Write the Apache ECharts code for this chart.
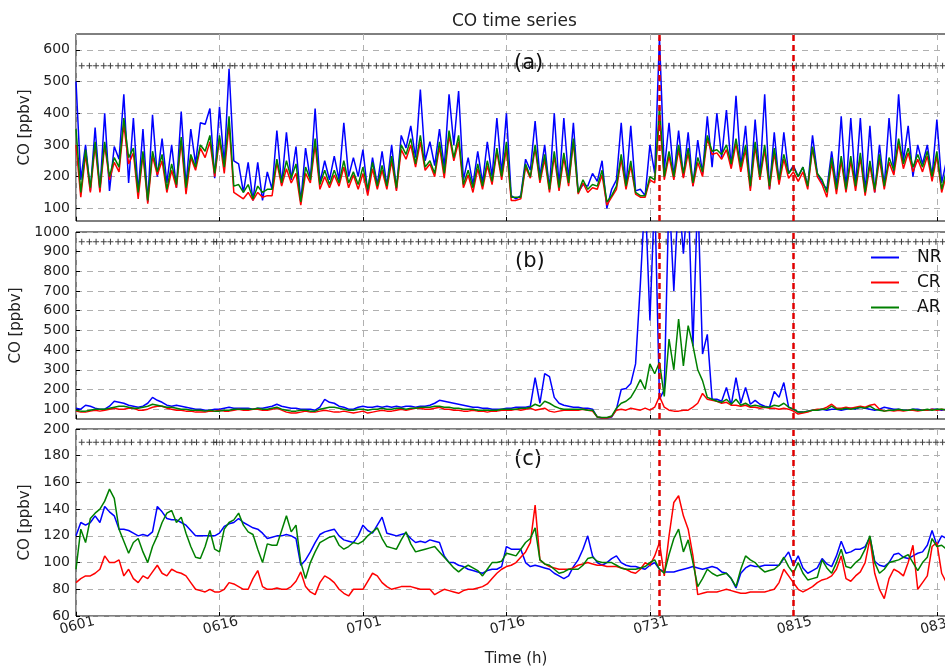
<!DOCTYPE html>
<html>
<head>
<meta charset="utf-8">
<title>CO time series</title>
<script src="https://cdn.jsdelivr.net/npm/echarts@6/dist/echarts.min.js"></script>
<style>
html, body { margin: 0; padding: 0; background: #fff; }
#main { width: 945px; height: 667px; }
</style>
</head>
<body>
<div id="main"></div>
<script>
// samples every half day, day 0 = 06-01
var stepDay = 0.5;
var dateTicks = ["0601", "0616", "0701", "0716", "0731", "0815", "0830"];
var eventDays = [60.95, 75];
var markerDays = [0.6, 1.4, 2.1, 2.9, 3.6, 4.4, 5.1, 5.8, 6.7, 7.5, 8.3, 9.0, 9.8, 10.5, 11.4, 12.1, 12.6, 13.5, 14.4, 14.7,
  15.3, 16.1, 16.6, 17.4, 18.2, 18.9, 19.7, 20.4, 21.2, 21.9, 22.6, 23.4, 24.1, 24.8, 25.6, 26.3, 27.1, 27.7, 28.5, 29.3,
  29.9, 30.6, 31.4, 32.1, 32.7, 33.5, 34.3, 35.0, 35.8, 36.5, 37.2, 38.0, 38.7, 39.5, 40.2, 40.9, 41.7, 42.4, 43.1, 43.7,
  44.5, 45.2, 45.9, 46.7, 47.4, 48.0, 48.8, 49.6, 50.3, 51.0, 51.8, 52.5, 53.2, 54.0, 54.7, 55.5, 56.2, 56.9, 57.7, 58.4,
  59.1, 59.8, 60.4, 61.0, 61.7, 62.5, 63.2, 63.9, 64.7, 65.4, 66.1, 66.9, 67.6, 68.3, 69.1, 69.8, 70.5, 71.3, 72.0, 72.7,
  73.5, 74.2, 74.9, 75.3, 76.0, 76.8, 77.5, 78.2, 79.0, 79.7, 80.4, 81.2, 81.9, 82.6, 83.4, 84.1, 84.8, 85.6, 86.3, 87.0,
  87.8, 88.5, 89.2, 89.9, 90.6];
var markerLevels = [550, 950, 190];

var yTicksA = [100, 200, 300, 400, 500, 600];
var yTicksB = [100, 200, 300, 400, 500, 600, 700, 800, 900, 1000];
var yTicksC = [60, 80, 100, 120, 140, 160, 180, 200];

// (a)
var nrA = [500,190,300,155,355,155,400,155,295,255, 460,180,385,150,350,120,395,200,320,180,
  300,165,405,170,350,240,370,365,415,195, 420,240,540,250,240,150,245,125,245,125,
  215,160,345,175,340,190,295,120,290,190, 415,180,250,190,265,190,370,200,260,200,
  285,150,260,175,280,170,300,160,330,290, 360,260,475,250,310,235,350,230,460,300,
  470,190,260,175,280,180,310,200,385,210, 400,140,130,140,255,220,375,200,300,160,
  400,170,385,190,370,150,175,170,210,185, 250,100,160,190,370,170,360,155,160,140,
  300,210,640,220,370,200,345,200,340,170, 315,210,390,230,400,260,410,230,455,230,
  360,165,380,200,460,160,340,180,340,210, 235,200,230,170,330,210,180,160,280,170,
  390,160,385,170,385,150,360,150,300,170, 385,210,460,250,360,200,300,240,300,200,
  380,180,250];
var crA = [300,135,270,150,300,150,300,190,245,215, 365,240,275,130,270,115,265,205,250,150,
  220,165,310,145,260,220,290,260,310,200, 320,210,365,150,140,130,150,125,150,135,
  140,140,245,170,225,180,210,110,210,180, 300,160,200,165,205,170,230,165,205,160,
  210,140,225,160,220,160,250,155,285,255, 300,230,310,220,240,200,295,195,330,250,
  310,165,205,150,225,160,235,175,280,190, 290,125,125,130,230,195,290,180,255,150,
  265,155,260,170,310,145,180,150,165,160, 205,110,135,160,255,160,235,145,135,135,
  190,180,390,190,265,190,285,195,275,170, 245,200,320,270,275,255,285,225,305,215,
  285,155,295,190,285,160,275,175,255,195, 215,185,215,160,290,200,175,135,245,145,
  250,150,250,155,260,140,235,150,255,160, 245,205,305,225,275,215,255,215,265,185,
  265,150,205];
var arA = [350,150,285,165,310,165,310,200,260,230, 385,260,290,150,280,125,280,215,270,160,
  240,175,325,165,270,230,300,280,330,210, 330,230,390,170,175,150,175,130,170,150,
  160,160,255,180,250,195,240,120,230,190, 320,175,220,175,220,180,250,180,215,175,
  230,160,245,170,235,170,265,165,300,270, 320,240,330,230,250,210,310,210,345,260,
  330,175,220,165,240,170,250,185,290,200, 310,135,135,135,240,200,300,190,270,160,
  280,165,275,180,320,150,190,160,175,170, 220,120,140,170,270,170,250,150,140,140,
  200,190,420,200,280,200,300,210,290,180, 260,215,330,280,285,270,300,240,320,230,
  300,170,310,200,300,170,290,190,270,210, 230,200,230,170,295,210,190,150,260,160,
  265,160,265,170,275,150,250,160,270,170, 260,220,320,240,290,230,270,230,280,200,
  280,160,220];

// (b)
var nrB = [105,100,120,115,105,100,100,115,140,135, 130,120,115,110,115,130,160,145,135,120,
  115,120,115,110,105,100,100,95,95,100, 100,105,110,105,105,105,105,100,105,105,
  110,115,125,115,110,105,105,100,100,100, 95,110,150,135,130,115,110,100,100,110,
  115,110,110,115,110,115,110,115,110,115, 115,110,115,115,120,130,145,140,135,130,
  125,120,115,110,110,105,105,100,100,100, 105,105,110,110,110,115,260,130,280,265,
  160,130,120,115,110,110,105,105,100,60, 55,55,60,100,200,205,230,330,735,1200,
  550,1200,150,200,1200,700,1200,890,1200,420, 1200,380,480,150,150,140,210,120,260,130,
  210,125,145,125,115,110,190,160,235,110, 100,85,85,90,95,95,100,95,100,100,
  95,100,105,100,110,105,100,95,100,110, 105,100,100,95,95,100,100,95,95,100,
  100,95,100];
var crB = [90,85,85,90,95,90,95,100,105,100, 100,105,105,95,95,100,110,115,115,105,
  100,95,95,90,90,85,85,85,90,90, 95,90,90,95,100,95,95,100,100,95,
  95,100,105,95,85,80,80,85,90,85, 85,90,95,90,85,85,90,85,80,85,
  90,80,85,90,95,90,90,95,100,95, 100,105,105,100,100,105,110,100,100,95,
  95,90,90,95,90,90,85,90,90,95, 95,95,100,95,100,105,95,100,105,90,
  85,90,95,95,95,95,100,95,90,60, 55,55,62,95,100,95,105,100,95,105,
  95,110,165,110,95,90,90,95,95,110, 130,180,150,145,140,130,135,120,120,115,
  120,110,110,105,110,105,105,100,105,100, 90,75,80,85,95,100,100,110,125,105,
  105,110,105,110,115,110,120,125,100,90, 95,90,95,90,95,95,90,95,95,100,
  95,100,95];
var arB = [95,90,90,95,100,100,100,105,110,115, 115,110,105,105,110,115,125,120,115,110,
  110,105,100,100,95,95,95,90,95,90, 90,95,95,100,100,100,100,100,105,100,
  100,105,110,100,95,90,90,95,95,90, 90,100,105,110,110,105,100,95,95,100,
  100,95,100,100,105,100,100,105,105,100, 105,105,110,110,110,115,115,110,110,105,
  105,100,100,100,95,95,95,95,95,100, 100,100,100,105,105,110,125,115,140,130,
  115,105,100,100,100,100,100,95,95,60, 58,58,65,105,130,140,160,200,250,200,
  330,280,338,165,456,300,558,320,524,423, 300,245,160,150,140,135,150,125,150,120,
  130,115,120,115,110,110,120,115,130,110, 100,85,85,90,95,95,100,100,115,100,
  100,105,100,105,110,105,115,100,95,90, 95,95,100,95,95,100,95,95,100,95,
  100,100,95];

// (c)
var nrC = [120,130,128,130,135,130,142,138,135,125, 125,124,122,120,121,120,123,142,138,133,
  132,132,130,128,124,120,120,120,120,120, 122,127,129,130,133,130,128,126,125,122,
  118,119,120,120,121,120,118,98,102,108, 115,121,123,124,125,120,117,116,115,120,
  128,124,122,128,134,122,121,120,121,122, 118,115,116,115,117,116,115,105,100,100,
  98,97,95,94,93,92,94,95,95,97, 112,110,110,110,100,97,98,97,96,95,
  92,90,88,90,97,102,110,120,105,100, 98,100,103,105,100,98,97,97,96,95,
  98,100,95,93,93,93,94,95,96,97, 96,95,96,97,96,93,92,88,81,92,
  96,98,97,97,98,98,98,98,103,108, 98,105,96,92,94,96,103,99,97,105,
  116,107,108,110,110,112,119,101,98,97, 100,106,107,104,103,105,107,108,113,124,
  113,120,118];
var crC = [85,88,90,90,92,95,105,100,100,102, 90,95,88,85,90,88,93,98,92,90,
  95,93,92,90,85,80,79,78,80,78, 78,80,85,84,82,80,80,88,94,82,
  80,80,81,80,80,82,86,93,82,78, 76,85,90,88,85,80,77,75,80,80,
  80,86,92,90,85,82,80,81,82,82, 82,81,80,80,80,76,78,80,79,78,
  77,79,80,80,81,82,84,88,92,95, 97,98,100,104,108,115,143,102,99,97,
  96,95,95,95,96,98,99,100,99,98, 98,97,97,97,96,95,93,92,95,100,
  98,105,115,90,120,145,150,135,125,105, 76,77,78,78,78,79,80,79,78,77,
  77,78,78,78,78,79,80,85,95,90, 85,80,78,80,82,85,87,88,90,95,
  105,88,86,90,93,100,118,92,80,73, 88,95,93,90,100,113,80,85,90,112,
  115,92,85];
var arC = [95,125,115,133,137,140,146,155,148,125, 116,107,115,118,108,100,112,120,130,137,
  139,130,134,122,112,104,103,112,124,110, 108,125,130,132,137,128,123,121,110,100,
  114,113,113,124,135,123,128,100,88,100, 108,115,117,119,120,113,110,112,115,114,
  116,120,123,126,118,112,111,110,117,123, 114,108,109,110,111,112,108,104,100,96,
  93,96,98,96,94,90,95,100,100,101, 107,106,105,110,115,118,126,102,99,98,
  95,92,93,95,95,95,98,103,104,101, 100,100,100,98,96,95,95,95,96,97,
  100,102,95,92,106,118,125,108,117,100, 82,88,95,92,90,91,92,88,82,95,
  105,102,100,96,93,94,95,98,104,97, 92,100,92,87,88,89,102,96,92,100,
  110,97,96,100,103,110,120,100,92,95, 100,101,102,104,106,100,94,100,104,118,
  112,113,110];

var panels = [
  { nr: nrA, cr: crA, ar: arA, min: 60, max: 650, ticks: yTicksA, top: 34 },
  { nr: nrB, cr: crB, ar: arB, min: 50, max: 1000, ticks: yTicksB, top: 232 },
  { nr: nrC, cr: crC, ar: arC, min: 60, max: 200, ticks: yTicksC, top: 429 }
];
var colors = { NR: "#0000ff", CR: "#ff0000", AR: "#008000" };
var font = "DejaVu Sans";
var gridDash = { color: "#b0b0b0", width: 1, type: [6, 5] };

function toPoints(vals) {
  return vals.map(function (v, i) { return [i * stepDay, v]; });
}

var grids = [], xAxes = [], yAxes = [], series = [];
panels.forEach(function (p, k) {
  grids.push({ left: 76, top: p.top, width: 880, height: 187, show: true,
    outerBoundsMode: "none", containLabel: false,
    borderColor: "#000", borderWidth: 1, backgroundColor: "transparent" });
  xAxes.push({
    type: "value", gridIndex: k, min: 0, max: 92, interval: 15,
    axisLine: { show: false },
    axisTick: { show: true, inside: true, length: 4, lineStyle: { color: "#000" } },
    splitLine: { show: true, lineStyle: gridDash },
    axisLabel: {
      show: k === 2, showMaxLabel: false, hideOverlap: false, rotate: 15, margin: 10,
      padding: [0, -19, 0, 0],
      fontFamily: font, fontSize: 14, color: "#222",
      formatter: function (v) { return dateTicks[Math.round(v / 15)] || ""; }
    },
    name: k === 2 ? "Time (h)" : "", nameLocation: "middle", nameGap: 36,
    nameTextStyle: { fontFamily: font, fontSize: 15, color: "#222" }
  });
  yAxes.push({
    type: "value", gridIndex: k, min: p.min, max: p.max,
    axisLine: { show: false },
    axisTick: { show: true, inside: true, length: 4, customValues: p.ticks, lineStyle: { color: "#000" } },
    splitLine: { show: true, lineStyle: gridDash },
    axisLabel: {
      customValues: p.ticks, fontFamily: font, fontSize: 14, color: "#222", margin: 6,
      formatter: function (v) { return String(v); }
    },
    name: "CO [ppbv]", nameLocation: "middle", nameGap: 37,
    nameTextStyle: { fontFamily: font, fontSize: 15, color: "#222" }
  });
  [["NR", p.nr], ["CR", p.cr], ["AR", p.ar]].forEach(function (s, j) {
    var ser = {
      name: s[0], type: "line", xAxisIndex: k, yAxisIndex: k,
      data: toPoints(s[1]), showSymbol: false, symbol: "none",
      lineStyle: { color: colors[s[0]], width: 1.5 },
      itemStyle: { color: colors[s[0]] },
      animation: false
    };
    if (j === 2) {
      ser.markLine = {
        silent: true, symbol: "none", label: { show: false },
        lineStyle: { color: "#e00000", width: 2.5, type: [6, 4] },
        data: eventDays.map(function (d) { return { xAxis: d }; })
      };
    }
    series.push(ser);
  });
  // "+" markers along the top of each panel
  series.push({
    type: "scatter", xAxisIndex: k, yAxisIndex: k, silent: true, animation: false,
    data: markerDays.map(function (d) { return [d, markerLevels[k]]; }),
    symbol: "path://M0,2.5 L6,2.5 L6,3.5 L0,3.5 Z M2.5,0 L3.5,0 L3.5,6 L2.5,6 Z", symbolSize: 6,
    itemStyle: { color: "#111" }
  });
});

var chart = echarts.init(document.getElementById("main"));
chart.setOption({
  animation: false,
  backgroundColor: "#fff",
  grid: grids,
  xAxis: xAxes,
  yAxis: yAxes,
  legend: {
    data: ["NR", "CR", "AR"], orient: "vertical", left: 866, top: 244,
    icon: "rect", itemWidth: 28, itemHeight: 2, itemGap: 8,
    textStyle: { fontFamily: font, fontSize: 17, color: "#111", padding: [0, 0, 0, 13] }
  },
  graphic: [
    { type: "text", left: 452, top: 13, style: { text: "CO time series", font: "17px 'DejaVu Sans'", fill: "#222" } },
    { type: "text", left: 514, top: 53, style: { text: "(a)", font: "21px 'DejaVu Sans'", fill: "#111" } },
    { type: "text", left: 515, top: 251, style: { text: "(b)", font: "21px 'DejaVu Sans'", fill: "#111" } },
    { type: "text", left: 514, top: 449, style: { text: "(c)", font: "21px 'DejaVu Sans'", fill: "#111" } }
  ],
  series: series
});
</script>
</body>
</html>
